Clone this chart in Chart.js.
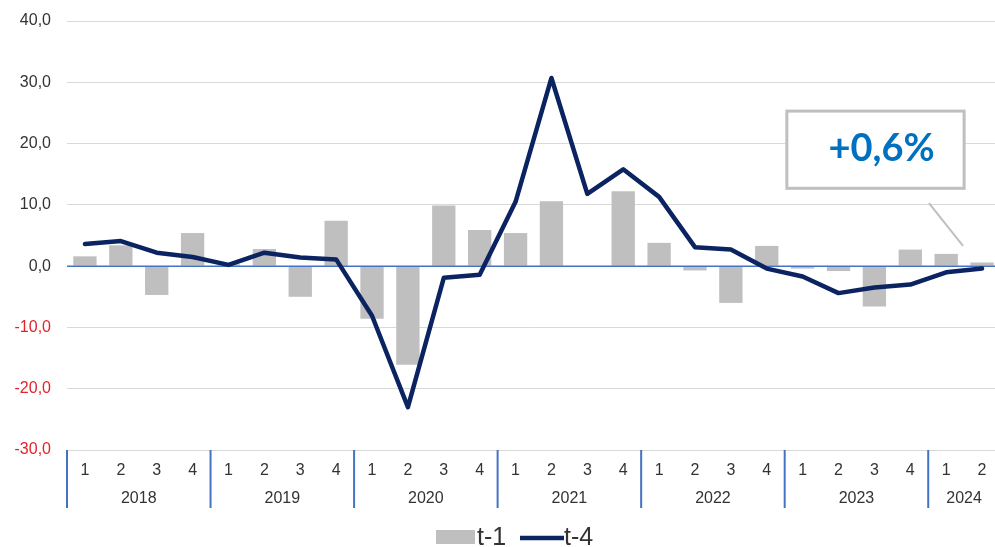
<!DOCTYPE html>
<html><head><meta charset="utf-8">
<script src="https://cdn.jsdelivr.net/npm/chart.js@4/dist/chart.umd.min.js"></script>
<style>html,body{margin:0;padding:0;background:#fff;overflow:hidden}
#wrap{width:1000px;height:547px;position:relative}</style>
</head><body><div id="wrap"><canvas id="c" width="1000" height="547"></canvas></div>
<script>
// ---- data ----
const quarters = ['1','2','3','4','1','2','3','4','1','2','3','4','1','2','3','4','1','2','3','4','1','2','3','4','1','2'];
const years = ['2018','2019','2020','2021','2022','2023','2024'];
const quartersInYear = [4,4,4,4,4,4,2];
const seriesT1 = [1.6, 3.4, -4.7, 5.4,  0.3, 2.8, -5.0, 7.4,  -8.6, -16.1, 9.9, 5.9,  5.4, 10.6, 0.0, 12.2,  3.8, -0.7, -6.0, 3.3,  -0.4, -0.8, -6.6, 2.7,  2.0, 0.6];
const seriesT4 = [3.6, 4.1, 2.2, 1.5,  0.2, 2.2, 1.4, 1.1,  -8.1, -23.0, -1.9, -1.4,  10.5, 30.7, 11.8, 15.8,  11.3, 3.1, 2.7, -0.4,  -1.7, -4.4, -3.5, -3.0,  -1.0, -0.4];
const yTicks = [-30, -20, -10, 0, 10, 20, 30, 40];
const seriesNames = ['t-1', 't-4'];
const calloutText = '+0,6%';

const categories = quarters.map((q, i) => {
  let acc = 0;
  for (let k = 0; k < years.length; k++) { if (i < acc + quartersInYear[k]) return years[k] + ' T' + q; acc += quartersInYear[k]; }
});

const FONT = '"Liberation Sans", Arial, sans-serif';
const TXT = '#333333';
const NAVY = '#0b2461';
const GRAY = '#bfbfbf';
const BLUE = '#4472c4';

Chart.defaults.font.family = FONT;

// callout anchored in data coordinates (category index, value)
const callout = { x0: 19.56, x1: 24.5, yTop: 25.3, yBot: 12.7, tx: 22.2, ty: 19.2,
                  lx0: 23.52, ly0: 10.3, lx1: 24.47, ly1: 3.3 };

const deco = {
  id: 'deco',
  beforeDatasetDraw(chart, args) {
    if (args.meta.type !== 'line') return;
    const { ctx, chartArea } = chart;
    const y0 = chart.scales.y.getPixelForValue(0);
    ctx.save();
    ctx.strokeStyle = BLUE; ctx.lineWidth = 1.5;
    ctx.beginPath(); ctx.moveTo(chartArea.left, y0); ctx.lineTo(chartArea.right, y0); ctx.stroke();
    ctx.restore();
  },
  afterDraw(chart) {
    const { ctx, chartArea } = chart;
    const xs = chart.scales.x, ys = chart.scales.y;
    ctx.save();
    // year separators and labels
    let start = 0;
    ctx.font = '16px ' + FONT; ctx.fillStyle = TXT; ctx.textAlign = 'center'; ctx.textBaseline = 'middle';
    years.forEach((yr, k) => {
      const n = quartersInYear[k];
      const bx = start === 0 ? chartArea.left : (xs.getPixelForValue(start - 1) + xs.getPixelForValue(start)) / 2;
      ctx.strokeStyle = BLUE; ctx.lineWidth = 2;
      ctx.beginPath(); ctx.moveTo(bx, chartArea.bottom); ctx.lineTo(bx, chartArea.bottom + 58); ctx.stroke();
      const cx = (xs.getPixelForValue(start) + xs.getPixelForValue(start + n - 1)) / 2;
      ctx.fillText(yr, cx, chartArea.bottom + 49);
      start += n;
    });
    // callout
    const px = v => xs.getPixelForValue(v), py = v => ys.getPixelForValue(v);
    ctx.strokeStyle = GRAY; ctx.lineWidth = 2;
    ctx.beginPath(); ctx.moveTo(px(callout.lx0), py(callout.ly0)); ctx.lineTo(px(callout.lx1), py(callout.ly1)); ctx.stroke();
    const bx0 = px(callout.x0), bx1 = px(callout.x1), by0 = py(callout.yTop), by1 = py(callout.yBot);
    ctx.fillStyle = '#ffffff'; ctx.fillRect(bx0, by0, bx1 - bx0, by1 - by0);
    ctx.lineWidth = 3; ctx.strokeStyle = GRAY; ctx.strokeRect(bx0, by0, bx1 - bx0, by1 - by0);
    ctx.fillStyle = '#0070c0'; ctx.font = 'bold 38px Lato, "Open Sans", sans-serif';
    ctx.textAlign = 'center'; ctx.textBaseline = 'middle';
    ctx.fillText(calloutText, px(callout.tx), py(callout.ty));
    // legend
    ctx.font = '25px ' + FONT; ctx.textAlign = 'left'; ctx.textBaseline = 'middle';
    const ly = 538;
    ctx.fillStyle = GRAY; ctx.fillRect(436, ly - 8, 39, 14);
    ctx.fillStyle = TXT; ctx.fillText(seriesNames[0], 477, ly);
    ctx.strokeStyle = NAVY; ctx.lineWidth = 4.5;
    ctx.beginPath(); ctx.moveTo(520, ly); ctx.lineTo(564, ly); ctx.stroke();
    ctx.fillText(seriesNames[1], 564, ly);
    ctx.restore();
  }
};

new Chart(document.getElementById('c'), {
  type: 'bar',
  data: {
    labels: categories,
    datasets: [
      { type: 'bar', label: seriesNames[0], data: seriesT1, backgroundColor: GRAY, barPercentage: 0.65, categoryPercentage: 1, order: 1 },
      { type: 'line', label: seriesNames[1], data: seriesT4, borderColor: NAVY, borderWidth: 4.5, pointRadius: 0, tension: 0, borderJoinStyle: 'round', borderCapStyle: 'round', order: 0 }
    ]
  },
  options: {
    responsive: false, animation: false, devicePixelRatio: 1,
    layout: { padding: { top: 21, right: 0, bottom: 27, left: 0 } },
    plugins: { legend: { display: false }, tooltip: { enabled: false } },
    scales: {
      x: {
        offset: true,
        grid: { display: false, drawTicks: false },
        border: { display: false },
        ticks: { autoSkip: false, maxRotation: 0, padding: 11, color: TXT, font: { size: 16 },
                 callback: (v, i) => quarters[i] },
        afterFit(s) { s.height = 70; }
      },
      y: {
        min: yTicks[0], max: yTicks[yTicks.length - 1],
        afterBuildTicks(s) { s.ticks = yTicks.map(v => ({ value: v })); },
        grid: { color: c => c.tick && c.tick.value === 0 ? 'rgba(0,0,0,0)' : '#d9d9d9', drawTicks: false, lineWidth: 1 },
        border: { display: false },
        ticks: { padding: 16, font: { size: 16 },
                 color: c => c.tick.value < 0 ? '#e3222b' : TXT,
                 callback: v => v.toFixed(1).replace('.', ',') },
        afterFit(s) { s.width = 67; s.paddingTop = 9; s.paddingBottom = 9; }
      }
    }
  },
  plugins: [deco]
});
</script>
</body></html>
